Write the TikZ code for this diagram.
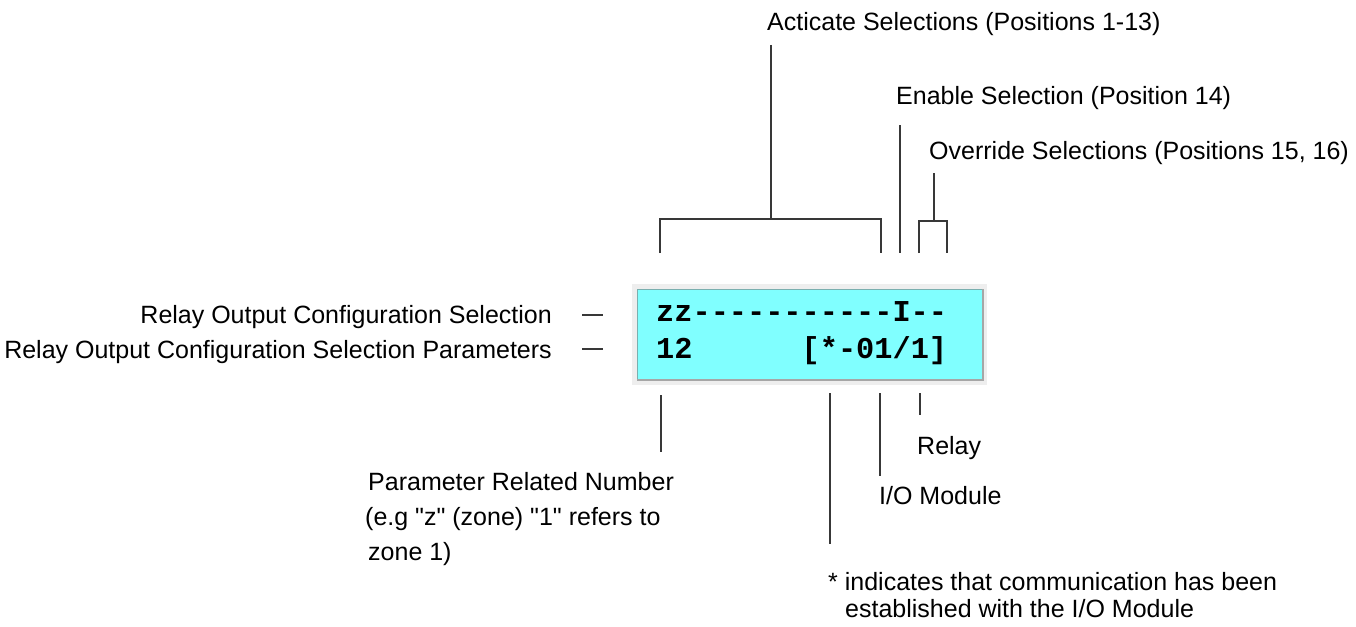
\documentclass[tikz,border=0pt]{standalone}
\usepackage{fontspec}
\setmainfont{Liberation Sans}
\setmonofont{Liberation Mono}
\usetikzlibrary{positioning,calc}
\definecolor{lcdColor}{HTML}{80FFFF}
\definecolor{lineColor}{HTML}{383838}
\definecolor{haloColor}{HTML}{EEEEEE}
\definecolor{rimColor}{HTML}{7AAFAF}
\tikzset{
	lbl/.style={inner sep=0, anchor=base west, font=\fontsize{25}{35}\selectfont},
	lcdrow/.style={inner sep=0, anchor=base west, font=\ttfamily\bfseries\fontsize{30.3}{37}\selectfont},
	lead/.style={draw=lineColor, line width=1.8pt}
}

\begin{document}
\begin{tikzpicture}[x=1pt,y=-1pt]
	\useasboundingbox (0,0) rectangle (1356,626);
	% display
	\fill[haloColor] (632,284) rectangle (987,385);
	\node[draw=rimColor, fill=lcdColor, line width=1pt, minimum width=345pt, minimum height=90pt, inner sep=0, anchor=north west] (lcd) at (637,289) {};
	\draw[gray!70, line width=1.2pt] (lcd.south west) -- (lcd.south east) -- (lcd.north east);
	\node[lcdrow] (row1) at (656,321) {zz-----------I--};
	\node[lcdrow] (row2) at (656,358) {12\hphantom{000000}[*-01/1]};
	
	% labels
	\node[lbl] (act) at (767,31) {Acticate Selections (Positions 1-13)};
	\node[lbl] (ena) at (896,104) {Enable Selection (Position 14)};
	\node[lbl] (ovr) at (929,159) {Override Selections (Positions 15, 16)};
	\node[lbl, anchor=base east] (cfg) at (552,323) {Relay Output Configuration Selection};
	\node[lbl, anchor=base east] (par) at (552,358) {Relay Output Configuration Selection Parameters};
	\node[lbl, align=left] (prn) at (368,560) {Parameter Related Number\\\hspace*{-3pt}(e.g \textquotedbl z\textquotedbl{} (zone) \textquotedbl 1\textquotedbl{} refers to\\zone 1)};
	\node[lbl] (rly) at (917,454) {Relay};
	\node[lbl] (iom) at (879,504) {I/O Module};
	\node[lbl, align=left, font=\fontsize{25}{27}\selectfont] (ast) at (828,617) {* indicates that communication has been\\\hspace*{17pt}established with the I/O Module};
	
	% leader ends
	\coordinate (actTop) at (771,45);
	\coordinate (actBar) at (771,219);
	\coordinate (actL) at (660,253);
	\coordinate (actR) at (881,253);
	\coordinate (enaTop) at (900,125);
	\coordinate (enaBot) at (900,253);
	\coordinate (ovrTop) at (934,173);
	\coordinate (ovrBar) at (934,221);
	\coordinate (ovrL) at (919,253);
	\coordinate (ovrR) at (947,253);
	\coordinate (cfgA) at (582,315);
	\coordinate (cfgB) at (603,315);
	\coordinate (parA) at (582,349);
	\coordinate (parB) at (603,349);
	\coordinate (prnTop) at (661,395);
	\coordinate (prnBot) at (661,452);
	\coordinate (astTop) at (830,393);
	\coordinate (astBot) at (830,544);
	\coordinate (iomTop) at (880,393);
	\coordinate (iomBot) at (880,476);
	\coordinate (rlyTop) at (920,393);
	\coordinate (rlyBot) at (920,415);
	
	\draw[lead] (actTop) -- (actBar);
	\draw[lead] (actL) |- (actBar) -| (actR);
	\draw[lead] (enaTop) -- (enaBot);
	\draw[lead] (ovrTop) -- (ovrBar);
	\draw[lead] (ovrL) |- (ovrBar) -| (ovrR);
	\draw[lead] (cfgA) -- (cfgB);
	\draw[lead] (parA) -- (parB);
	\draw[lead] (prnTop) -- (prnBot);
	\draw[lead] (astTop) -- (astBot);
	\draw[lead] (iomTop) -- (iomBot);
	\draw[lead] (rlyTop) -- (rlyBot);
\end{tikzpicture}
\end{document}
